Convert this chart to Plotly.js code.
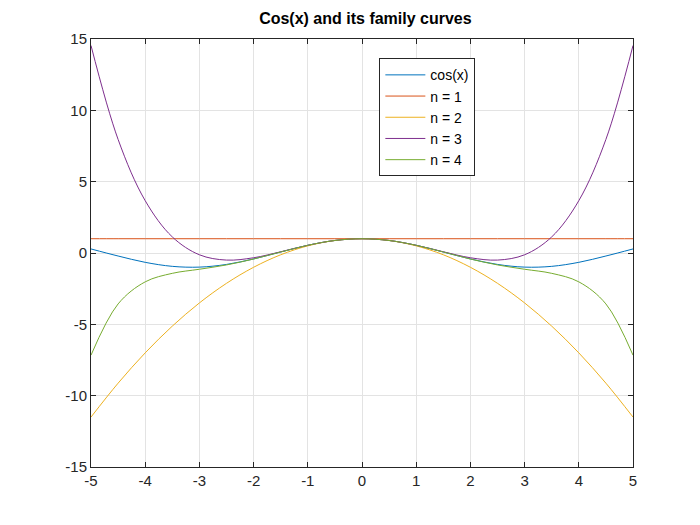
<!DOCTYPE html>
<html>
<head>
<meta charset="utf-8">
<script src="https://cdn.plot.ly/plotly-3.0.1.min.js"></script>
<style>html,body{margin:0;padding:0;background:#fff}#chart{width:700px;height:525px}</style>
</head>
<body>
<div id="chart"></div>
<script>
  "use strict";

  // Sample positions (x) and values for x >= 0; curves are symmetric.
  var X_HALF = [0, 0.5, 1, 1.5, 2, 2.5, 3, 3.5, 4, 4.5, 5];
  var COS_HALF = [1, 0.878, 0.540, 0.071, -0.416, -0.801, -0.990, -0.936, -0.654, -0.211, 0.284];
  var N1_HALF = [1, 1, 1, 1, 1, 1, 1, 1, 1, 1, 1];
  var N2_HALF = [1, 0.875, 0.5, -0.125, -1, -2.125, -3.5, -5.125, -7, -9.125, -11.5];
  var N3_HALF = [1, 0.878, 0.542, 0.086, -0.333, -0.497, -0.125, 1.128, 3.667, 7.961, 14.542];
  var N4_HALF = [1, 0.878, 0.540, 0.070, -0.422, -0.836, -1.138, -1.425, -2.022, -3.570, -7.160];

  var NAMES = ["cos(x)", "n = 1", "n = 2", "n = 3", "n = 4"];
  var COLORS = ["#0072BD", "#D95319", "#EDB120", "#7E2F8E", "#77AC30"];
  var X_TICKS = [-5, -4, -3, -2, -1, 0, 1, 2, 3, 4, 5];
  var Y_TICKS = [-15, -10, -5, 0, 5, 10, 15];

  function mirrorX(half) {
    var left = half.slice(1).reverse().map(function (v) { return -v; });
    return left.concat(half);
  }
  function mirrorY(half) {
    return half.slice(1).reverse().concat(half);
  }

  var xs = mirrorX(X_HALF);
  var series = [COS_HALF, N1_HALF, N2_HALF, N3_HALF, N4_HALF];

  var traces = series.map(function (half, i) {
    return {
      type: "scatter",
      mode: "lines",
      name: NAMES[i],
      x: xs,
      y: mirrorY(half),
      line: { color: COLORS[i], width: 1, shape: "spline", smoothing: 1 }
    };
  });

  var axisBase = {
    showgrid: true,
    gridcolor: "#e3e3e3",
    zeroline: false,
    showline: true,
    linecolor: "#262626",
    linewidth: 1,
    mirror: "ticks",
    ticks: "inside",
    ticklen: 5,
    tickcolor: "#262626",
    tickfont: { size: 15, color: "#262626" }
  };

  var layout = {
    width: 700,
    height: 525,
    paper_bgcolor: "#fff",
    plot_bgcolor: "#fff",
    font: { family: "Liberation Sans, Arial, sans-serif", color: "#262626" },
    margin: { l: 91, r: 67, t: 39, b: 58 },
    title: {
      text: "<b>Cos(x) and its family curves</b>",
      font: { size: 16, color: "#000" },
      x: 0.522, xanchor: "center", y: 0.965, yanchor: "middle"
    },
    xaxis: Object.assign({}, axisBase, {
      range: [-5, 5], tickvals: X_TICKS, ticktext: X_TICKS.map(String)
    }),
    yaxis: Object.assign({}, axisBase, {
      range: [-15, 15], tickvals: Y_TICKS, ticktext: Y_TICKS.map(String)
    }),
    showlegend: true,
    legend: {
      x: 0.532, xanchor: "left", y: 0.955, yanchor: "top",
      bgcolor: "#fff", bordercolor: "#262626", borderwidth: 1,
      font: { size: 14, color: "#000" },
      itemwidth: 40,
      tracegroupgap: 0
    }
  };

  Plotly.newPlot("chart", traces, layout, { displayModeBar: false, staticPlot: true });
</script>
</body>
</html>
